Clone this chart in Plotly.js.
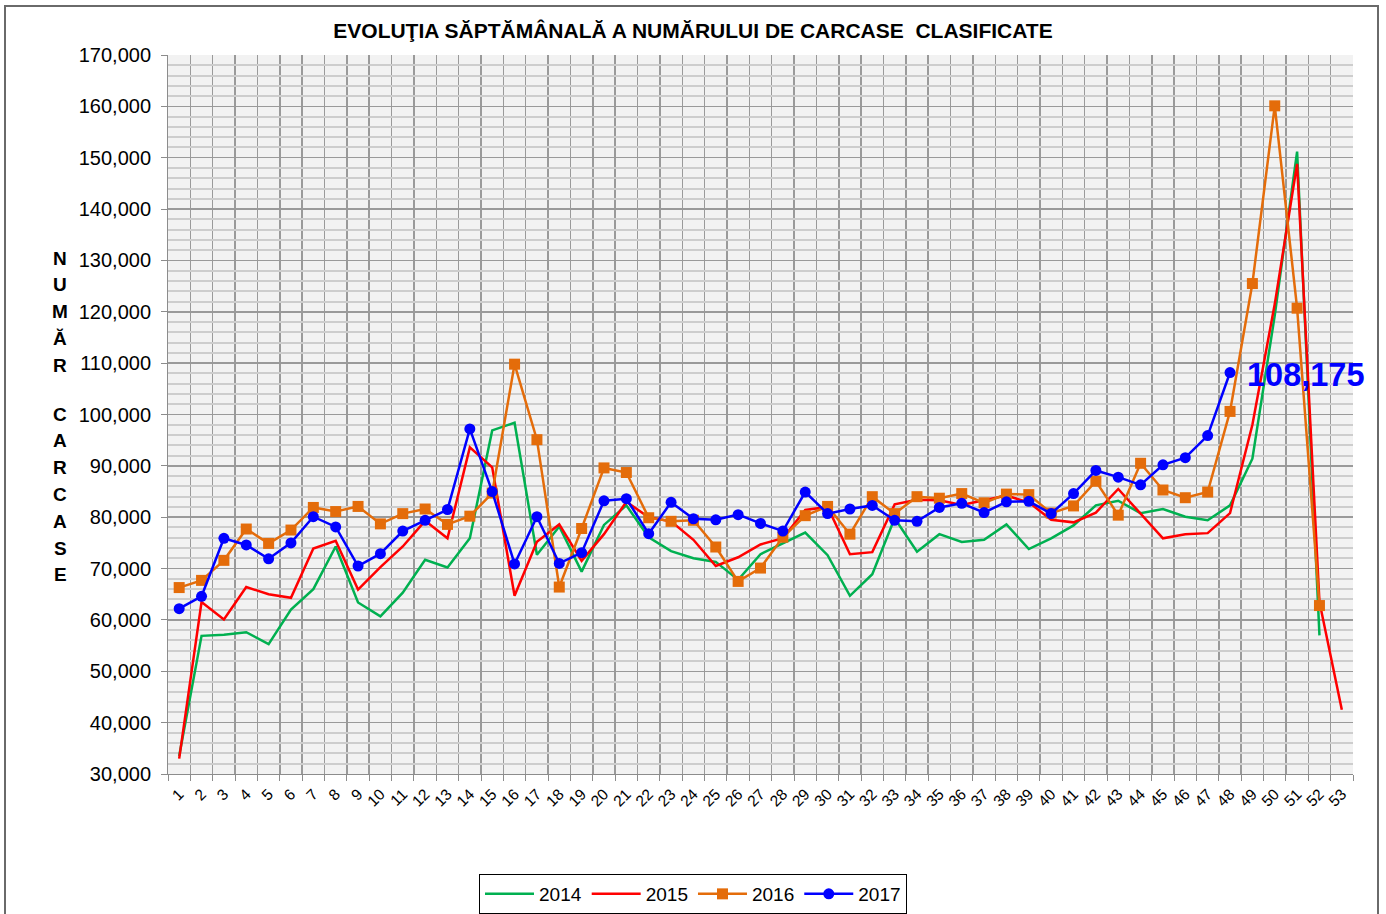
<!DOCTYPE html>
<html>
<head>
<meta charset="utf-8">
<script src="https://cdn.plot.ly/plotly-3.0.1.min.js"></script>
<style>
html,body{margin:0;padding:0;background:#fff;}
#wrap{position:relative;width:1386px;height:914px;overflow:hidden;}
#frame{position:absolute;left:4px;top:5px;width:1375px;height:940px;border:2px solid #6a6a6a;box-sizing:border-box;pointer-events:none;}
#chart{position:absolute;left:0;top:0;width:1386px;height:914px;}
</style>
</head>
<body>
<div id="wrap"><div id="chart"></div><div id="frame"></div></div>
<script>
const weeks = Array.from({length:53},(_,i)=>i+1);
const weekLabels = weeks.map(String);

const y2014 = [33500,56900,57100,57600,55300,62000,66000,74300,63400,60700,65300,71700,70200,75900,96900,98400,72700,78200,69400,78500,82300,76100,73400,72000,71300,67800,72800,74900,77000,72600,64700,68900,79800,73300,76700,75200,75600,78600,73800,75900,78400,82300,83200,80800,81600,80100,79400,82300,91400,119300,151200,57000];
const y2015 = [33000,63500,60100,66400,65000,64300,73900,75400,65900,70300,74300,79300,75900,93600,89700,64700,75200,78600,71500,76700,83000,80000,79200,75600,70500,72200,74700,75900,81400,82000,72800,73200,82500,83400,83300,82400,83300,84200,82900,79500,79000,80900,85500,80700,75900,76700,76900,80800,98000,121500,148800,63500,42500];
const y2016 = [66300,67700,71600,77700,74900,77500,81900,81100,82100,78700,80700,81600,78600,80200,84700,109800,95100,66400,77800,89600,88700,79900,79200,79400,74200,67500,70100,76100,80300,82100,76700,84000,80700,84000,83700,84600,82800,84500,84400,80800,82200,87000,80400,90500,85300,83800,84900,100600,125500,160100,120700,62800];
const y2017 = [62200,64600,75900,74600,71900,75000,80100,78100,70500,72900,77300,79400,81500,97200,85000,70900,80100,71000,73100,83200,83600,76800,82900,79700,79500,80500,78800,77300,84900,80700,81600,82300,79400,79200,81900,82700,80900,83000,83100,80700,84600,89100,87800,86300,90200,91600,95900,108175];

const seriesNames = ['2014','2015','2016','2017'];
const titleText = 'EVOLUŢIA SĂPTĂMÂNALĂ A NUMĂRULUI DE CARCASE  CLASIFICATE';
const yTitleWords = ['NUMĂR','CARCASE'];

const traces = [
  {x:weeks.slice(0,y2014.length), y:y2014, name:seriesNames[0], type:'scatter', mode:'lines',
   line:{color:'#00b050', width:2.5}},
  {x:weeks.slice(0,y2015.length), y:y2015, name:seriesNames[1], type:'scatter', mode:'lines',
   line:{color:'#ff0000', width:2.5}},
  {x:weeks.slice(0,y2016.length), y:y2016, name:seriesNames[2], type:'scatter', mode:'lines+markers',
   line:{color:'#e46c0a', width:2.5}, marker:{symbol:'square', size:11, color:'#e46c0a'}},
  {x:weeks.slice(0,y2017.length), y:y2017, name:seriesNames[3], type:'scatter', mode:'lines+markers',
   line:{color:'#0000ff', width:2.5}, marker:{symbol:'circle', size:11, color:'#0000ff'}}
];

const W=1386, H=914, L=168, R=33, T=55, B=140;
const plotH = H-T-B, plotW = W-L-R;

const annotations = [];
const starts = [258, 414];
yTitleWords.forEach((word, wi) => {
  [...word].forEach((ch, ci) => {
    const ypx = starts[wi] + ci*26.8;
    annotations.push({
      text: ch, xref:'paper', yref:'paper',
      x: (60-L)/plotW, y: (T+plotH-ypx)/plotH,
      xanchor:'center', yanchor:'middle', showarrow:false,
      font:{family:'Liberation Sans, Arial, sans-serif', size:19, color:'#000', weight:'bold'}
    });
  });
});
const lastIdx = y2017.length-1;
annotations.push({
  text: y2017[lastIdx].toLocaleString('en-US'),
  x: weeks[lastIdx], y: y2017[lastIdx], xref:'x', yref:'y',
  xanchor:'left', yanchor:'middle', xshift:15, yshift:-2, showarrow:false,
  font:{family:'Liberation Sans, Arial, sans-serif', size:32.5, color:'#0000ff', weight:'bold'}
});

const layout = {
  width:W, height:H,
  margin:{l:L, r:R, t:T, b:B},
  paper_bgcolor:'rgba(0,0,0,0)',
  plot_bgcolor:'#f2f2f2',
  font:{family:'Liberation Sans, Arial, sans-serif', color:'#000'},
  title:{text:'<b>'+titleText+'</b>', x:0.5, xref:'container', y:1-31/H, yref:'container',
         xanchor:'center', yanchor:'middle',
         font:{family:'Liberation Sans, Arial, sans-serif', size:21, color:'#000'}},
  showlegend:true,
  legend:{orientation:'h', xref:'container', yref:'container', x:0.5, xanchor:'center',
          y:(H-874)/H, yanchor:'top', bgcolor:'#fff', bordercolor:'#000', borderwidth:1,
          font:{size:19, family:'Liberation Sans, Arial, sans-serif'}, itemwidth:49,
          traceorder:'normal'},
  xaxis:{
    range:[0.5, 53.5], tickmode:'array', tickvals:weeks, ticktext:weekLabels,
    tickangle:-45, tickfont:{size:15.5}, showgrid:false, zeroline:false,
    ticks:'', showline:true, linecolor:'#8c8c8c', linewidth:1, ticklabelstandoff:4,
    minor:{tick0:0.5, dtick:1, showgrid:true, gridcolor:'#9a9a9a', gridwidth:1.5, ticks:'outside', ticklen:6, tickcolor:'#8c8c8c'}
  },
  yaxis:{
    range:[30000,170000], dtick:10000, tick0:30000, tickformat:',d',
    tickfont:{size:20}, showgrid:true, gridcolor:'#9a9a9a', gridwidth:1.5,
    zeroline:false, ticks:'outside', ticklen:6, tickcolor:'#8c8c8c', ticklabelstandoff:6,
    showline:true, linecolor:'#8c8c8c', linewidth:1,
    minor:{dtick:2000, tick0:30000, showgrid:true, gridcolor:'#cdcdcd', gridwidth:2}
  },
  annotations:annotations
};

Plotly.newPlot('chart', traces, layout, {displayModeBar:false, staticPlot:true});
</script>
</body>
</html>
